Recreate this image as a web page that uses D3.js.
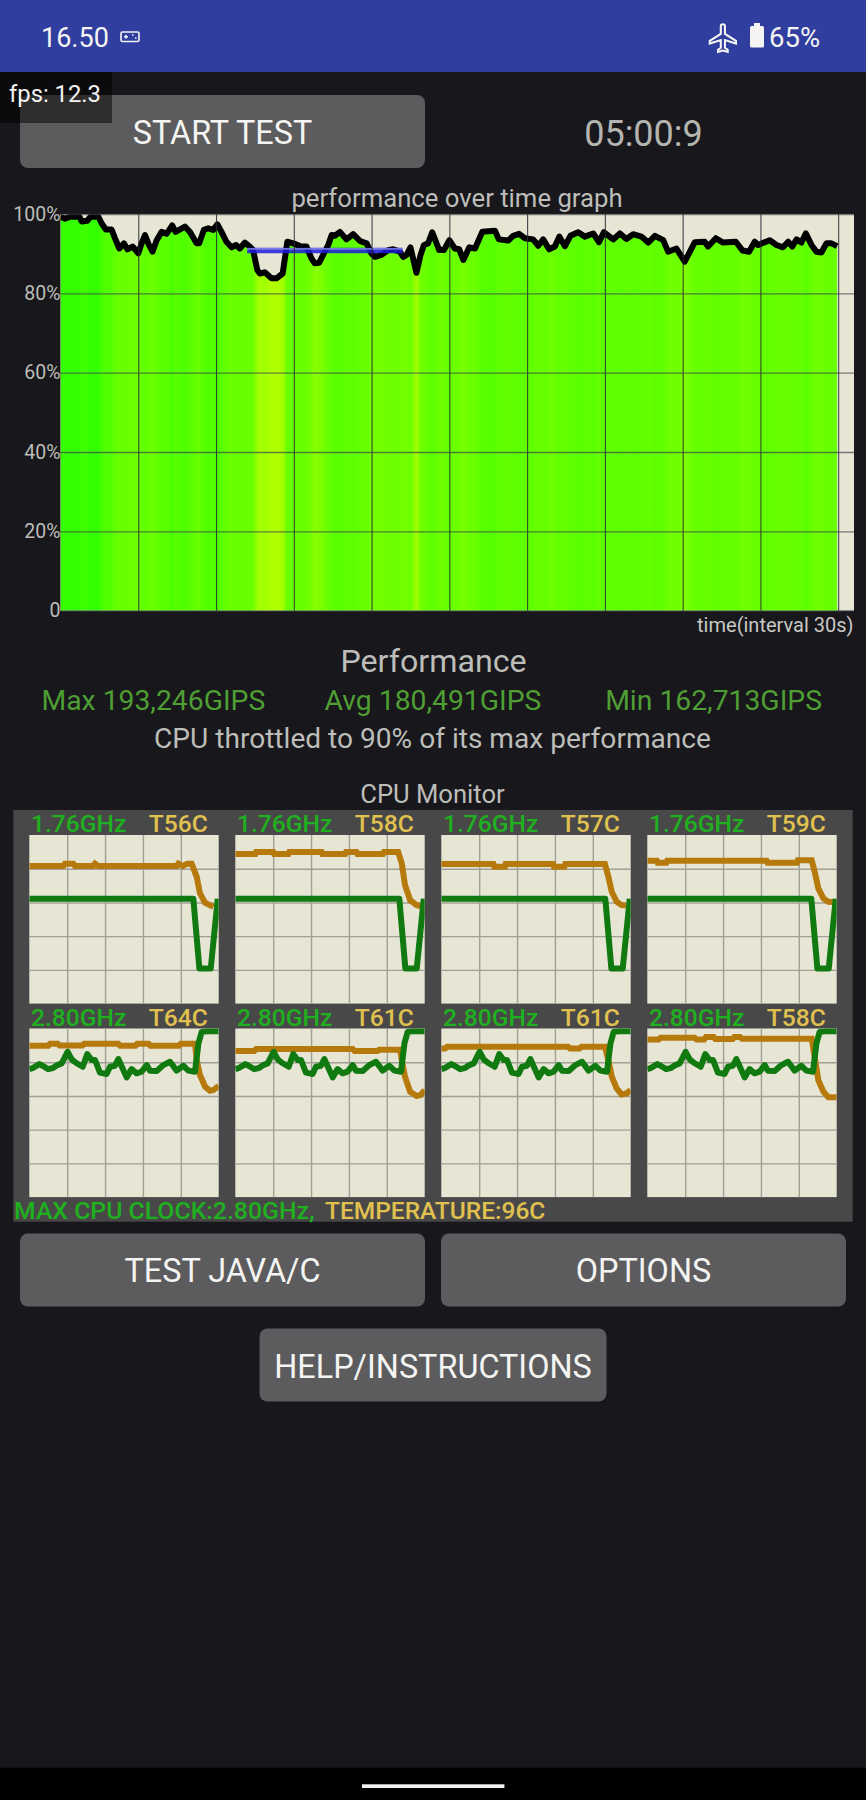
<!DOCTYPE html>
<html>
<head>
<meta charset="utf-8">
<title>CPU Throttling Test</title>
<script src="https://cdn.jsdelivr.net/npm/d3@7"></script>
<style>
  html, body { margin: 0; padding: 0; background: #17171c; }
  svg { display: block; }
  text { font-family: Roboto, sans-serif; }
</style>
</head>
<body>
<div id="app"></div>
<script>
// performance over time, seconds and percent of max
var perfTimes = [0,1.7,3.7,7.3,8.2,10.3,11.6,14.6,15.9,17.5,19.7,21,22.7,24.5,25.8,27.8,30,31.3,32.6,34.1,35.5,37.1,39,40.9,43.1,44.4,48,49.9,52.5,53.5,55.3,57,58.9,60.5,62.1,64,66,67.7,69.2,71.1,73,74.3,75.9,76.9,78.8,81.4,83.3,85.7,87.5,89.8,92.4,94.9,96.8,98.1,99.8,101.3,103.3,104.6,105.8,107.8,110.3,112.9,115.5,118.1,119.9,121.3,123.8,126.4,128.3,130.9,132.2,133.5,135,137.3,138.9,140.2,141.8,143.4,146.1,147.9,150,152.1,153.8,155.4,157.7,159.9,162.7,167.6,169.1,172.7,174.6,176.9,179.1,182.3,184.3,186.2,188.5,190.7,192.4,194.6,196.7,199.7,202.3,205.5,207.7,209.6,213.2,215.8,218.3,220.9,224.1,226.7,229.3,232.5,234.4,237.6,240.8,244.7,248.5,249.8,252.8,255.6,260.5,263.1,265.6,267.8,269.1,273.6,276.2,278.7,280.7,282.3,283.9,285.8,287.5,289.7,291.6,293.5,295.5,297.4,299.6];
var perfValues = [99.3,98.8,99.3,99.3,98.1,98.3,99.3,99.3,97.6,96.1,96.1,93.9,91.3,92.6,91.1,91.8,90.1,92.6,94.7,92.2,90.5,93.4,95.5,95,97.1,95.5,96.8,95.5,92.6,92.6,96,96.4,96,97.4,95.5,93,91.6,92.2,91.3,92.8,91.8,90.9,85.9,85,85.3,83.8,83.8,85,93,92.6,91.9,91.8,88.8,87.6,87.7,89.7,92.2,94.7,94.5,95.5,93.6,94.9,93.2,92.6,90.1,89.2,89.7,90.9,91.1,90.5,89.2,89.7,91.6,85.2,89.7,92.2,92.6,95.4,90.9,90.9,93.4,91.3,91.1,88.4,91.6,91.3,95.5,95.8,93.6,93.3,94.5,95,93.9,93.6,92,93.6,91.1,91.8,94.3,91.9,94.5,95.4,94.3,95.1,92.9,95.4,93.6,95.1,93.7,94.9,94.3,92.8,94.5,93.4,90.5,91.3,88,92.9,93,91.8,93.9,92.8,93,90.8,90.5,93,92.2,93.4,92.2,91.6,93,91.8,93.6,92.8,95.1,92.2,90.5,90.3,92.6,92.6,91.9];
var avgTimes = [72, 132];
var avgValues = [90.8, 90.8];

var perfTicks = [0, 20, 40, 60, 80, 100];
var perfLabels = ['0', '20%', '40%', '60%', '80%', '100%'];
var timeTicks = [30, 60, 90, 120, 150, 180, 210, 240, 270, 300];

var coreClocks = ['1.76GHz', '1.76GHz', '1.76GHz', '1.76GHz', '2.80GHz', '2.80GHz', '2.80GHz', '2.80GHz'];
var coreTemps = ['T56C', 'T58C', 'T57C', 'T59C', 'T64C', 'T61C', 'T61C', 'T58C'];

// cpu monitor, both axes in percent of the little chart
var littleClockX = [0, 86.6, 89.8, 95.8, 99.5];
var littleClockY = [62.2, 62.2, 20.8, 20.8, 62.2];
var bigClockX = [0,2.1,5.3,7,10,12.7,14.8,17.1,20.2,22.4,24.6,28.2,30.6,32.9,34.7,37.3,40.8,42.6,45.2,47,49.3,51.4,54,56.7,59.3,62,63.7,67.3,70.8,74.3,77.8,81.3,84,87.5,89.3,91,93.7,100];
var bigClockY = [75.9,76.7,78.9,77.9,75.9,76.7,78.3,79.3,86.2,81.7,79.7,77.3,84.8,81.3,81.3,73.8,73,77.3,77.9,81.9,76.3,71,75.9,73.4,74.4,78.3,75,74.8,78.3,80.3,75,77.9,75,74.4,91.1,98,98.4,98.4];

var tempX0 = [0,18,18.8,23.2,24.1,33.8,34.7,36.4,77.8,78.7,81,83.5,85.7,88.4,90.1,92.8,97.2];
var tempY0 = [81.6,81.6,83,83,81.6,81.6,83,81.6,81.6,83,81.6,83,83,75.2,65.4,59.8,57.4];
var tempX1 = [0,10.6,11,20,20.5,28,28.5,45.6,46,58,58.5,64,64.5,78,78.5,86,87.9,89.6,92.3,95.8,98];
var tempY1 = [88.7,88.7,89.9,89.9,88.7,88.7,89.9,89.9,88.7,88.7,89.9,89.9,88.7,88.7,89.9,89.9,83.2,70.3,61.4,58.4,57.8];
var tempX2 = [0,27.5,28,33.6,34,59,59.5,65,65.5,86.4,88.2,90,92.6,95.2,97.5];
var tempY2 = [82.8,82.8,81.2,81.2,82.8,82.8,81.2,81.2,82.8,82.8,75.2,66.3,60.4,58.4,58.2];
var tempX3 = [0,5,5.5,10,10.5,63,63.5,79,79.5,86.8,88.6,90.3,93,95.6,98.2];
var tempY3 = [84.7,84.7,83.5,83.5,84.7,84.7,83.5,83.5,85,85,77.2,68.3,62.4,60.4,60.2];
var tempX4 = [0,10,11,15,16,28,29,47,48,56,57,63,64,79,80,87.5,88.4,90.1,92.8,95.4,97.2,100];
var tempY4 = [89.7,89.7,91,91,89.9,89.9,90.9,90.9,89.7,89.7,90.9,90.9,89.7,89.7,90.9,90.9,81.3,72.4,65.5,63.1,63.5,65.9];
var tempX5 = [0,10,11,62,63,75,76,87,87.9,89.6,92.3,95.8,97.9,100];
var tempY5 = [86.6,86.6,87.8,87.8,86.6,86.6,87.4,87.4,81.3,71.4,62.5,60,60.6,63.5];
var tempX6 = [0,2,3,67,68,73,74,86.4,88.2,90,92.6,95.2,97.9,100];
var tempY6 = [88.2,88.2,89.2,89.2,88.2,88.2,89.2,89.2,81.3,71.4,64.5,60.9,61.5,63.5];
var tempX7 = [0,6,7,25,26,30,31,35,36,45,46,49,50,86.8,88.6,90.3,93,95.6,100];
var tempY7 = [93.5,93.5,94.5,94.5,93.5,93.5,95,95,93.7,93.7,95,95,93.9,93.9,81.3,69.4,62.5,59.2,59.2];

var tempXs = [tempX0, tempX1, tempX2, tempX3, tempX4, tempX5, tempX6, tempX7];
var tempYs = [tempY0, tempY1, tempY2, tempY3, tempY4, tempY5, tempY6, tempY7];
var clockXs = [littleClockX, littleClockX, littleClockX, littleClockX, bigClockX, bigClockX, bigClockX, bigClockX];
var clockYs = [littleClockY, littleClockY, littleClockY, littleClockY, bigClockY, bigClockY, bigClockY, bigClockY];

var littleTicks = [20, 40, 60, 80];

var paper = '#e7e5d3';
var white = '#f4f4f2';
var grey = '#bdbdb9';
var green = '#4f9e33';
var clockGreen = '#1fb01f';
var tempYellow = '#e0c14f';

var svg = d3.select('#app').append('svg')
  .attr('width', 866)
  .attr('height', 1800)
  .attr('viewBox', '0 0 866 1800');

svg.append('rect').attr('width', 866).attr('height', 1800).attr('fill', '#17171c');

function label(str, x, y, size, color, anchor) {
  return svg.append('text')
    .attr('x', x)
    .attr('y', y)
    .attr('font-size', size)
    .attr('fill', color)
    .attr('text-anchor', anchor || 'start')
    .text(str);
}

function button(str, x, y, w, h, base, size) {
  svg.append('rect')
    .attr('x', x).attr('y', y)
    .attr('width', w).attr('height', h)
    .attr('rx', 8)
    .attr('fill', '#5c5c5e');
  label(str, x + w / 2, base, size, white, 'middle');
}

// status bar
svg.append('rect').attr('width', 866).attr('height', 72).attr('fill', '#303ea0');
label('16.50', 41, 46.5, 27, white);
svg.append('rect').attr('x', 121).attr('y', 32).attr('width', 18).attr('height', 9.5).attr('rx', 1.5)
  .attr('fill', 'none').attr('stroke', white).attr('stroke-width', 1.6);
svg.append('path').attr('d', 'M124 36.8h4M126 34.8v4M132 35h1.5M135 38h1.5')
  .attr('stroke', white).attr('stroke-width', 1.4);
svg.append('path')
  .attr('d', 'M21 16v-2l-8-5V3.5c0-.83-.67-1.5-1.5-1.5S10 2.67 10 3.5V9l-8 5v2l8-2.5V19l-2 1.5V22l3.5-1 3.5 1v-1.5L13 19v-5.5l8 2.5z')
  .attr('transform', 'translate(707,21.5) scale(1.38)')
  .attr('fill', 'none').attr('stroke', white).attr('stroke-width', 1.5);
svg.append('rect').attr('x', 750).attr('y', 26).attr('width', 14).attr('height', 21.5).attr('rx', 1.5).attr('fill', white);
svg.append('rect').attr('x', 754).attr('y', 23).attr('width', 6).attr('height', 4).attr('fill', white);
label('65%', 769, 46.5, 27.5, white);

// buttons and clock
button('START TEST', 20, 95, 405, 73, 144, 32.4);
label('05:00:9', 643.5, 146, 36, '#b4b4b0', 'middle');

svg.append('rect').attr('x', 0).attr('y', 72).attr('width', 112).attr('height', 51).attr('fill', 'rgba(0,0,0,0.5)');
label('fps: 12.3', 9, 102, 23.8, white);

// performance graph
var plotX0 = 60.5, plotX1 = 854, plotY0 = 214, plotY1 = 610.7;

var x = d3.scaleLinear().domain([0, 306.1]).range([plotX0, plotX1]);
var y = d3.scaleLinear().domain([0, 100]).range([plotY1, plotY0]);
var heat = d3.scaleLinear()
  .domain([84, 86, 89, 92, 95, 97, 100])
  .range(['#b0ff00', '#98ff00', '#76ff00', '#68ff00', '#5cff00', '#4cff00', '#2cff00'])
  .clamp(true);

label('performance over time graph', 457, 206.5, 25.7, grey, 'middle');

svg.append('rect')
  .attr('x', plotX0).attr('y', plotY0)
  .attr('width', plotX1 - plotX0).attr('height', plotY1 - plotY0)
  .attr('fill', paper);

var defs = svg.append('defs');
defs.append('clipPath').attr('id', 'plot-clip').append('rect')
  .attr('x', plotX0).attr('y', plotY0)
  .attr('width', plotX1 - plotX0).attr('height', plotY1 - plotY0);

var grad = defs.append('linearGradient')
  .attr('id', 'perf-heat')
  .attr('gradientUnits', 'userSpaceOnUse')
  .attr('x1', x(0)).attr('x2', x(perfTimes[perfTimes.length - 1]))
  .attr('y1', 0).attr('y2', 0);

grad.selectAll('stop')
  .data(perfTimes)
  .join('stop')
  .attr('offset', function(d) { return d / perfTimes[perfTimes.length - 1]; })
  .attr('stop-color', function(d, i) { return heat(perfValues[i]); });

var plot = svg.append('g').attr('clip-path', 'url(#plot-clip)');

var area = d3.area()
  .x(function(d) { return x(d); })
  .y0(y(0))
  .y1(function(d, i) { return y(perfValues[i]); });

plot.append('path')
  .attr('d', area(perfTimes))
  .attr('fill', 'url(#perf-heat)');

var xGrid = svg.append('g')
  .attr('transform', 'translate(0,' + plotY1 + ')')
  .call(d3.axisBottom(x).tickValues(timeTicks).tickSize(plotY0 - plotY1).tickFormat(''));
xGrid.select('.domain').remove();
xGrid.selectAll('line').attr('stroke', 'rgba(40,40,50,0.85)').attr('stroke-width', 1.1);

var yGrid = svg.append('g')
  .attr('transform', 'translate(' + plotX0 + ',0)')
  .call(d3.axisLeft(y).tickValues(perfTicks).tickSize(plotX0 - plotX1).tickPadding(0)
    .tickFormat(function(d, i) { return perfLabels[i]; }));
yGrid.select('.domain').remove();
yGrid.selectAll('line').attr('stroke', 'rgba(60,60,70,0.65)').attr('stroke-width', 1.3);
yGrid.selectAll('text')
  .attr('font-family', 'Roboto, sans-serif')
  .attr('font-size', 19.5)
  .attr('fill', grey);

var perfLine = d3.line()
  .x(function(d) { return x(d); })
  .y(function(d, i) { return y(perfValues[i]); });

plot.append('path')
  .attr('d', perfLine(perfTimes))
  .attr('fill', 'none')
  .attr('stroke', '#000')
  .attr('stroke-width', 6)
  .attr('stroke-linejoin', 'round');

var avgLine = d3.line()
  .x(function(d) { return x(d); })
  .y(function(d, i) { return y(avgValues[i]); });

plot.append('path')
  .attr('d', avgLine(avgTimes))
  .attr('fill', 'none')
  .attr('stroke', '#1c1cdc')
  .attr('stroke-opacity', 0.85)
  .attr('stroke-width', 5.5);

plot.append('path')
  .attr('d', avgLine(avgTimes))
  .attr('transform', 'translate(0,-1.6)')
  .attr('fill', 'none')
  .attr('stroke', '#a6a6f0')
  .attr('stroke-opacity', 0.6)
  .attr('stroke-width', 1.6);

label('time(interval 30s)', 853.5, 632, 20, '#c8c8c4', 'end');

// summary
label('Performance', 433.5, 672, 32.2, grey, 'middle');
label('Max 193,246GIPS', 41.5, 710, 28.3, green);
label('Avg 180,491GIPS', 433, 710, 28.3, green, 'middle');
label('Min 162,713GIPS', 822, 710, 28.3, green, 'end');
label('CPU throttled to 90% of its max performance', 432.5, 747.5, 28.1, grey, 'middle');

// cpu monitor
label('CPU Monitor', 432.5, 802.5, 25.6, grey, 'middle');
svg.append('rect').attr('x', 13.3).attr('y', 810).attr('width', 839.4).attr('height', 411.7).attr('fill', '#484848');

var cellW = 189.4, cellH = 168.6, cellStep = 206;
var cellTops = [835, 1028.5];
var textBases = [832.3, 1026];

var cellX = d3.scaleLinear().domain([0, 100]).range([0, cellW]);
var cellY = d3.scaleLinear().domain([0, 100]).range([cellH, 0]);

coreClocks.forEach(function(clock, i) {
  var left = 29.3 + (i % 4) * cellStep;
  var row = i < 4 ? 0 : 1;
  var g = svg.append('g').attr('transform', 'translate(' + left + ',' + cellTops[row] + ')');

  g.append('rect').attr('width', cellW).attr('height', cellH).attr('fill', paper);

  var gx = g.append('g').attr('transform', 'translate(0,' + cellH + ')')
    .call(d3.axisBottom(cellX).tickValues(littleTicks).tickSize(-cellH).tickFormat(''));
  gx.select('.domain').remove();
  var gy = g.append('g')
    .call(d3.axisLeft(cellY).tickValues(littleTicks).tickSize(-cellW).tickFormat(''));
  gy.select('.domain').remove();
  g.selectAll('.tick line').attr('stroke', '#a0a096').attr('stroke-width', 1.4);

  var clip = 'cell-clip-' + i;
  defs.append('clipPath').attr('id', clip).append('rect').attr('width', cellW).attr('height', cellH);
  var lines = g.append('g').attr('clip-path', 'url(#' + clip + ')');

  var tempLine = d3.line()
    .x(function(d) { return cellX(d); })
    .y(function(d, k) { return cellY(tempYs[i][k]); });
  lines.append('path')
    .attr('d', tempLine(tempXs[i]))
    .attr('fill', 'none')
    .attr('stroke', '#b5790c')
    .attr('stroke-width', 6);

  var clockLine = d3.line()
    .x(function(d) { return cellX(d); })
    .y(function(d, k) { return cellY(clockYs[i][k]); });
  lines.append('path')
    .attr('d', clockLine(clockXs[i]))
    .attr('fill', 'none')
    .attr('stroke', '#107a10')
    .attr('stroke-width', 6)
    .attr('stroke-linejoin', 'round');

  label(clock, left + 1.7, textBases[row], 24.6, clockGreen).attr('font-weight', 500);
  label(coreTemps[i], left + 178.4, textBases[row], 24.6, tempYellow, 'end').attr('font-weight', 500);
});

label('MAX CPU CLOCK:2.80GHz,', 14, 1219, 24.8, clockGreen).attr('font-weight', 500);
label('TEMPERATURE:96C', 325, 1219, 24.5, tempYellow).attr('font-weight', 500);

button('TEST JAVA/C', 20, 1233.5, 405, 73, 1282, 32.4);
button('OPTIONS', 441, 1233.5, 405, 73, 1282, 32.4);
button('HELP/INSTRUCTIONS', 259.5, 1328.5, 347, 73, 1377.7, 32.4);

// navigation bar
svg.append('rect').attr('y', 1767.7).attr('width', 866).attr('height', 32.3).attr('fill', '#000');
svg.append('rect').attr('x', 362).attr('y', 1784.3).attr('width', 142.4).attr('height', 3.7).attr('fill', white);
</script>
</body>
</html>
